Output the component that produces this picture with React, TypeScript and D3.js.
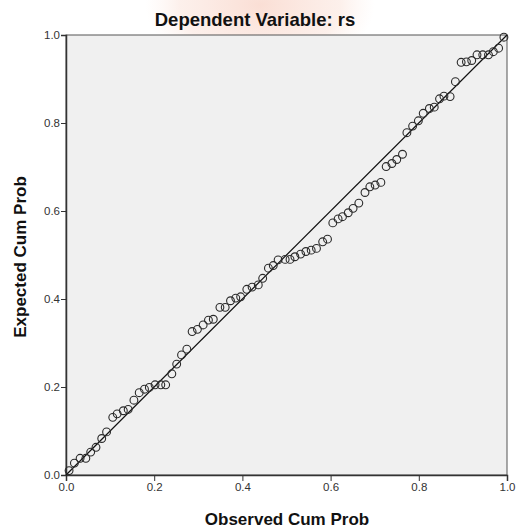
import React, { useEffect, useRef } from "react";
import * as d3 from "d3";

// Normal P-P plot of regression standardized residual
const observed = [
  0.007, 0.019, 0.032, 0.045, 0.056, 0.068, 0.081, 0.092, 0.106, 0.116,
  0.13, 0.141, 0.154, 0.166, 0.178, 0.189, 0.202, 0.215, 0.226, 0.24,
  0.251, 0.262, 0.274, 0.286, 0.298, 0.311, 0.323, 0.334, 0.349, 0.361,
  0.373, 0.385, 0.396, 0.41, 0.422, 0.436, 0.446, 0.459, 0.47, 0.481,
  0.497, 0.508, 0.519, 0.532, 0.544, 0.556, 0.568, 0.582, 0.593, 0.605,
  0.617, 0.627, 0.64, 0.651, 0.664, 0.678, 0.689, 0.701, 0.714, 0.726,
  0.739, 0.75, 0.763, 0.773, 0.786, 0.799, 0.81, 0.824, 0.835, 0.847,
  0.857, 0.871, 0.883, 0.896, 0.908, 0.92, 0.932, 0.945, 0.958, 0.969,
  0.981, 0.993,
];
const expected = [
  0.01, 0.027, 0.038, 0.038, 0.052, 0.063, 0.083, 0.098, 0.131, 0.139,
  0.146, 0.149, 0.17, 0.187, 0.195, 0.199, 0.205, 0.205, 0.205, 0.23,
  0.252, 0.273, 0.286, 0.326, 0.331, 0.341, 0.352, 0.354, 0.381, 0.381,
  0.396, 0.402, 0.405, 0.422, 0.427, 0.432, 0.447, 0.47, 0.476, 0.489,
  0.49, 0.49, 0.496, 0.502, 0.508, 0.511, 0.515, 0.53, 0.536, 0.573,
  0.582, 0.587, 0.596, 0.606, 0.618, 0.642, 0.655, 0.659, 0.665, 0.701,
  0.708, 0.717, 0.729, 0.778, 0.793, 0.805, 0.822, 0.833, 0.836, 0.855,
  0.861, 0.86, 0.894, 0.938, 0.939, 0.942, 0.955, 0.955, 0.955, 0.962,
  0.97, 0.995,
];
const tickValues = [0, 0.2, 0.4, 0.6, 0.8, 1.0];

const W = 516;
const H = 529;
const margin = { top: 35, right: 9, bottom: 54, left: 66 };
const font = "Arial, 'Liberation Sans', sans-serif";

export default function App() {
  const ref = useRef<SVGSVGElement>(null);

  useEffect(() => {
    const svg = d3.select(ref.current);
    svg.selectAll("*").remove();

    const x = d3.scaleLinear().domain([0, 1]).range([margin.left, W - margin.right]);
    const y = d3.scaleLinear().domain([0, 1]).range([H - margin.bottom, margin.top]);

    // faint pink glow of the background watermark
    const defs = svg.append("defs");
    const grad = defs.append("radialGradient").attr("id", "wm");
    grad.append("stop").attr("offset", "0%").attr("stop-color", "#f9d6ca").attr("stop-opacity", 0.8);
    grad.append("stop").attr("offset", "70%").attr("stop-color", "#fbe6de").attr("stop-opacity", 0.6);
    grad.append("stop").attr("offset", "100%").attr("stop-color", "#fdf0ea").attr("stop-opacity", 0);
    svg.append("ellipse").attr("cx", 260).attr("cy", 5).attr("rx", 115).attr("ry", 70).attr("fill", "url(#wm)");

    // plot background
    svg.append("rect")
      .attr("x", x(0)).attr("y", y(1))
      .attr("width", x(1) - x(0)).attr("height", y(0) - y(1))
      .attr("fill", "#f0f0f0");

    // title
    svg.append("text")
      .attr("x", 255).attr("y", 26)
      .attr("text-anchor", "middle")
      .attr("font-family", font).attr("font-weight", "bold").attr("font-size", 18.5)
      .attr("fill", "#111")
      .text("Dependent Variable: rs");

    // frame
    svg.append("rect")
      .attr("x", x(0)).attr("y", y(1))
      .attr("width", x(1) - x(0)).attr("height", y(0) - y(1))
      .attr("fill", "none").attr("stroke", "#555").attr("stroke-width", 1);

    const xAxis = svg.append("g")
      .attr("transform", `translate(0,${y(0)})`)
      .call(d3.axisBottom(x).tickValues(tickValues).tickFormat(d3.format(".1f")).tickSize(6).tickPadding(2));
    const yAxis = svg.append("g")
      .attr("transform", `translate(${x(0)},0)`)
      .call(d3.axisLeft(y).tickValues(tickValues).tickFormat(d3.format(".1f")).tickSize(5).tickPadding(1));
    [xAxis, yAxis].forEach((a) => {
      a.select(".domain").attr("stroke", "#333").attr("stroke-width", 1.5);
      a.selectAll(".tick line").attr("stroke", "#333");
      a.selectAll(".tick text").attr("font-family", font).attr("font-size", 11.5).attr("fill", "#333");
    });

    // reference line
    svg.append("line")
      .attr("x1", x(0)).attr("y1", y(0)).attr("x2", x(1)).attr("y2", y(1))
      .attr("stroke", "#111").attr("stroke-width", 1.2);

    // points
    svg.append("g")
      .selectAll("circle")
      .data(observed.map((o, i) => [o, expected[i]]))
      .join("circle")
      .attr("cx", (d) => x(d[0]))
      .attr("cy", (d) => y(d[1]))
      .attr("r", 3.9)
      .attr("fill", "none")
      .attr("stroke", "#2a2a2a")
      .attr("stroke-width", 1.1);

    // axis titles
    svg.append("text")
      .attr("x", 287).attr("y", 525)
      .attr("text-anchor", "middle")
      .attr("font-family", font).attr("font-weight", "bold").attr("font-size", 17)
      .attr("fill", "#111")
      .text("Observed Cum Prob");
    svg.append("text")
      .attr("transform", `translate(26,${(y(0) + y(1)) / 2 + 2}) rotate(-90)`)
      .attr("text-anchor", "middle")
      .attr("font-family", font).attr("font-weight", "bold").attr("font-size", 17)
      .attr("fill", "#111")
      .text("Expected Cum Prob");
  }, []);

  return (
    <svg
      ref={ref}
      width={W}
      height={H}
      style={{ position: "absolute", left: 0, top: 0, background: "#fff" }}
    />
  );
}
